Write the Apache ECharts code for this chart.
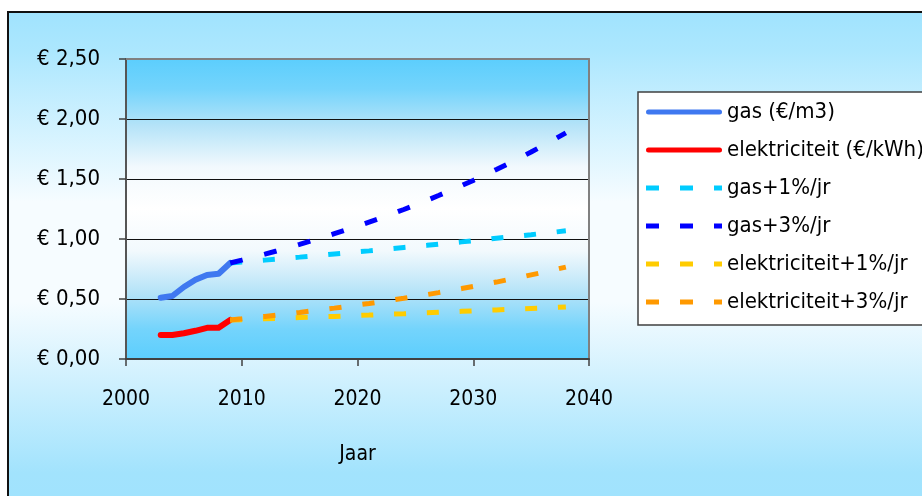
<!DOCTYPE html>
<html>
<head>
<meta charset="utf-8">
<script src="https://cdn.jsdelivr.net/npm/echarts@6/dist/echarts.min.js"></script>
<style>
  html, body { margin: 0; padding: 0; background: #ffffff; }
  #chart { width: 922px; height: 496px; }
</style>
</head>
<body>
<div id="chart"></div>
<script>
// Historic prices
const histYears = [2003, 2004, 2005, 2006, 2007, 2008, 2009];
const gasHist   = [0.51, 0.525, 0.60, 0.66, 0.70, 0.71, 0.80];
const elecHist  = [0.20, 0.20, 0.215, 0.235, 0.26, 0.26, 0.325];

// Projections 2009–2038
const projYears = [2009, 2010, 2011, 2012, 2013, 2014, 2015, 2016, 2017, 2018,
                   2019, 2020, 2021, 2022, 2023, 2024, 2025, 2026, 2027, 2028,
                   2029, 2030, 2031, 2032, 2033, 2034, 2035, 2036, 2037, 2038];
const gasPlus1 = [0.800, 0.808, 0.816, 0.824, 0.832, 0.841, 0.849, 0.858, 0.866, 0.875,
                  0.884, 0.893, 0.901, 0.910, 0.920, 0.929, 0.938, 0.947, 0.957, 0.966,
                  0.976, 0.986, 0.996, 1.006, 1.016, 1.026, 1.036, 1.047, 1.057, 1.068];
const gasPlus3 = [0.800, 0.824, 0.849, 0.874, 0.900, 0.927, 0.955, 0.984, 1.013, 1.044,
                  1.075, 1.107, 1.141, 1.175, 1.210, 1.246, 1.284, 1.322, 1.362, 1.403,
                  1.445, 1.488, 1.533, 1.579, 1.626, 1.675, 1.725, 1.777, 1.830, 1.885];
const elecPlus1 = [0.325, 0.328, 0.332, 0.335, 0.338, 0.342, 0.345, 0.348, 0.352, 0.355,
                   0.359, 0.363, 0.366, 0.370, 0.374, 0.377, 0.381, 0.385, 0.389, 0.393,
                   0.397, 0.401, 0.405, 0.409, 0.413, 0.417, 0.421, 0.425, 0.429, 0.434];
const elecPlus3 = [0.325, 0.335, 0.345, 0.355, 0.366, 0.377, 0.388, 0.400, 0.412, 0.424,
                   0.437, 0.450, 0.463, 0.477, 0.492, 0.506, 0.522, 0.537, 0.553, 0.570,
                   0.587, 0.605, 0.623, 0.641, 0.661, 0.680, 0.701, 0.722, 0.744, 0.766];

const seriesNames = ['gas (€/m3)', 'elektriciteit (€/kWh)', 'gas+1%/jr', 'gas+3%/jr',
                     'elektriciteit+1%/jr', 'elektriciteit+3%/jr'];
const xTicks = { min: 2000, max: 2040, step: 10 };
const yTicks = { min: 0, max: 2.5, step: 0.5 };
const axisTitle = 'Jaar';

const FONT = "'DejaVu Sans Condensed', 'DejaVu Sans', sans-serif";
const pairs = (xs, ys) => xs.map((x, i) => [x, ys[i]]);

// Legend swatches: a rounded bar for the solid lines, three short dashes for the dashed ones
const ICON_SOLID = 'path://M2.5,0H73.5A2.5,2.5 0 0 1 73.5,5H2.5A2.5,2.5 0 0 1 2.5,0Z';
const ICON_DASH = 'path://M0,0H13V5H0Z M34,0H47V5H34Z M68,0H76V5H68Z';

function solid(name, color, xs, ys) {
  return {
    name, type: 'line', data: pairs(xs, ys), symbol: 'none', smooth: false,
    lineStyle: { color, width: 6, cap: 'round', join: 'round' },
    itemStyle: { color }, emphasis: { disabled: true }, z: 3
  };
}
// stretch: dash pattern scale so steeper lines keep the same horizontal rhythm
function dashed(name, color, xs, ys, stretch) {
  return {
    name, type: 'line', data: pairs(xs, ys), symbol: 'none', smooth: false,
    lineStyle: { color, width: 5, type: [12 * stretch, 20.8 * stretch], cap: 'butt' },
    itemStyle: { color }, emphasis: { disabled: true }, z: 3
  };
}

const chart = echarts.init(document.getElementById('chart'), null, { renderer: 'canvas' });

const plotFill = {
  type: 'linear', x: 0, y: 0, x2: 0, y2: 1,
  colorStops: [
    { offset: 0.00, color: '#5ccefd' },
    { offset: 0.10, color: '#74d4fc' },
    { offset: 0.22, color: '#b4e3f8' },
    { offset: 0.36, color: '#f2f9fd' },
    { offset: 0.50, color: '#ffffff' },
    { offset: 0.64, color: '#f2f9fd' },
    { offset: 0.78, color: '#b4e3f8' },
    { offset: 0.90, color: '#74d4fc' },
    { offset: 1.00, color: '#5ccefd' }
  ]
};

chart.setOption({
  animation: false,
  backgroundColor: '#ffffff',
  textStyle: { fontFamily: FONT },
  graphic: [{
    type: 'rect', z: -10, silent: true,
    shape: { x: 8, y: 12, width: 940, height: 500 },
    style: {
      fill: {
        type: 'linear', x: 0, y: 0, x2: 0, y2: 1,
        colorStops: [
          { offset: 0.00, color: '#a0e3fe' },
          { offset: 0.08, color: '#ace7fe' },
          { offset: 0.38, color: '#f6fcff' },
          { offset: 0.58, color: '#f6fcff' },
          { offset: 0.92, color: '#a2e3fd' },
          { offset: 1.00, color: '#a0e3fe' }
        ]
      },
      stroke: '#111111', lineWidth: 2
    }
  }],
  grid: {
    left: 126, top: 59, width: 463, height: 300,
    show: true, backgroundColor: plotFill, borderWidth: 0
  },
  legend: {
    orient: 'vertical', left: 638, top: 92,
    padding: [9, 20, 12, 8],
    itemWidth: 76, itemHeight: 5, itemGap: 16,
    backgroundColor: '#ffffff', borderColor: '#404040', borderWidth: 1.5,
    data: seriesNames.map((name, i) => ({ name, icon: i < 2 ? ICON_SOLID : ICON_DASH })),
    textStyle: { fontFamily: FONT, fontSize: 22, color: '#000', lineHeight: 22 },
    selectedMode: false
  },
  xAxis: [{
    type: 'value', min: xTicks.min, max: xTicks.max, interval: xTicks.step,
    name: axisTitle, nameLocation: 'middle', nameGap: 85,
    nameTextStyle: { fontFamily: FONT, fontSize: 21, color: '#000' },
    axisLine: { show: true, onZero: false, lineStyle: { color: '#404040', width: 2 } },
    axisTick: { show: true, inside: false, length: 7, lineStyle: { color: '#404040', width: 1.5 } },
    axisLabel: { margin: 30, fontFamily: FONT, fontSize: 21, color: '#000', formatter: v => String(v) },
    splitLine: { show: false }
  }, {
    type: 'value', position: 'top', min: xTicks.min, max: xTicks.max, interval: xTicks.step,
    axisLine: { show: true, onZero: false, lineStyle: { color: '#808080', width: 2 } },
    axisTick: { show: false }, axisLabel: { show: false }, splitLine: { show: false }
  }],
  yAxis: [{
    type: 'value', min: yTicks.min, max: yTicks.max, interval: yTicks.step,
    axisLine: { show: true, onZero: false, lineStyle: { color: '#555555', width: 2 } },
    axisTick: { show: true, inside: false, length: 7, lineStyle: { color: '#404040', width: 1.5 } },
    axisLabel: {
      margin: 26, fontFamily: FONT, fontSize: 22, color: '#000',
      formatter: v => '€ ' + v.toFixed(2).replace('.', ',')
    },
    splitLine: { show: true, lineStyle: { color: '#111111', width: 1.2 } }
  }, {
    type: 'value', position: 'right', min: yTicks.min, max: yTicks.max, interval: yTicks.step,
    axisLine: { show: true, onZero: false, lineStyle: { color: '#808080', width: 2 } },
    axisTick: { show: false }, axisLabel: { show: false }, splitLine: { show: false }
  }],
  series: [
    solid(seriesNames[0], '#3f78f0', histYears, gasHist),
    solid(seriesNames[1], '#ff0000', histYears, elecHist),
    dashed(seriesNames[2], '#00ccff', projYears, gasPlus1, 1.0),
    dashed(seriesNames[3], '#0000ff', projYears, gasPlus3, 1.07),
    dashed(seriesNames[4], '#ffcc00', projYears, elecPlus1, 1.0),
    dashed(seriesNames[5], '#ff9900', projYears, elecPlus3, 1.015)
  ]
});
</script>
</body>
</html>
